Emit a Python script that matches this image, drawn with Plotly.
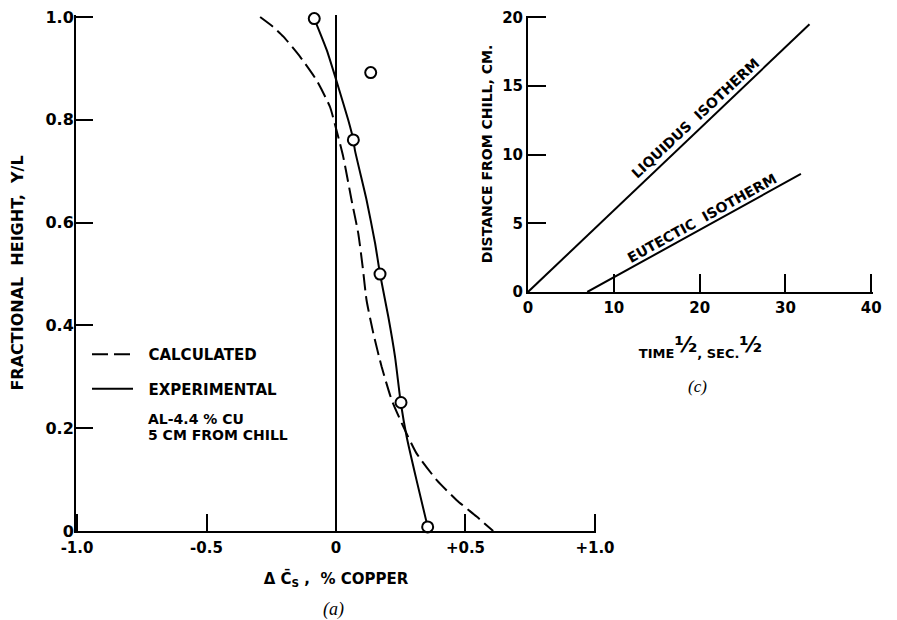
import plotly.graph_objects as go

# ---------------- data: panel (a) ----------------
calc_x = [-0.293, -0.243, -0.203, -0.139, -0.075, -0.023, 0.005, 0.028, 0.06, 0.086, 0.103, 0.118,
          0.144, 0.176, 0.215, 0.26, 0.311, 0.389, 0.466, 0.543, 0.607]
calc_y = [1.0, 0.981, 0.962, 0.923, 0.877, 0.825, 0.774, 0.728, 0.644, 0.579, 0.514, 0.449,
          0.385, 0.32, 0.255, 0.203, 0.151, 0.099, 0.06, 0.028, 0.0]

exp_curve_x = [-0.084, -0.036, 0.009, 0.047, 0.067, 0.073, 0.118, 0.151, 0.17, 0.202, 0.228, 0.25,
               0.273, 0.311, 0.354]
exp_curve_y = [0.997, 0.936, 0.864, 0.8, 0.761, 0.741, 0.644, 0.56, 0.5, 0.417, 0.339, 0.25,
               0.183, 0.099, 0.008]

exp_pts_x = [-0.084, 0.134, 0.067, 0.17, 0.251, 0.354]
exp_pts_y = [0.997, 0.892, 0.761, 0.50, 0.25, 0.008]

a_xticks = [-1.0, -0.5, 0, 0.5, 1.0]
a_xticktext = ["-1.0", "-0.5", "0", "+0.5", "+1.0"]
a_yticks = [0, 0.2, 0.4, 0.6, 0.8, 1.0]
a_yticktext = ["0", "0.2", "0.4", "0.6", "0.8", "1.0"]

# ---------------- data: panel (c) ----------------
liq_x = [0, 32.8]
liq_y = [0, 19.5]
eut_x = [6.9, 31.8]
eut_y = [0, 8.6]

c_xticks = [0, 10, 20, 30, 40]
c_xticktext = ["0", "10", "20", "30", "40"]
c_yticks = [0, 5, 10, 15, 20]
c_yticktext = ["0", "5", "10", "15", "20"]

FONT = "DejaVu Sans, Verdana, sans-serif"
SERIF = "Liberation Serif, Times New Roman, serif"
OFF = 8            # page body margin of the browser
W, H = 897 - OFF, 620 - OFF


def px_x(p):
    return (p - OFF) / W


def px_y(p):
    return 1 - (p - OFF) / H


def bold(size):
    return dict(family=FONT, size=size, color="black", weight="bold")


fig = go.Figure()

fig.add_trace(go.Scatter(x=calc_x, y=calc_y, mode="lines", name="\u00a0\u00a0CALCULATED",
                         legendgroup="calc",
                         line=dict(color="black", width=2, dash="16px,6px", shape="spline", smoothing=0.5),
                         xaxis="x", yaxis="y", cliponaxis=False))
fig.add_trace(go.Scatter(x=exp_curve_x, y=exp_curve_y, mode="lines", name="\u00a0\u00a0EXPERIMENTAL",
                         legendgroup="exp",
                         line=dict(color="black", width=2, shape="spline", smoothing=0.5),
                         xaxis="x", yaxis="y", cliponaxis=False))
fig.add_trace(go.Scatter(x=exp_pts_x, y=exp_pts_y, mode="markers", showlegend=False,
                         marker=dict(symbol="circle", size=11, color="white",
                                     line=dict(color="black", width=2)),
                         xaxis="x", yaxis="y", cliponaxis=False))

fig.add_trace(go.Scatter(x=liq_x, y=liq_y, mode="lines", showlegend=False,
                         line=dict(color="black", width=2), xaxis="x2", yaxis="y2", cliponaxis=False))
fig.add_trace(go.Scatter(x=eut_x, y=eut_y, mode="lines", showlegend=False,
                         line=dict(color="black", width=2), xaxis="x2", yaxis="y2", cliponaxis=False))

axis_common = dict(showgrid=False, showline=True, linecolor="black", linewidth=2,
                   ticks="inside", tickcolor="black", tickwidth=2, mirror=False,
                   automargin=False, ticklabeloverflow="allow")

half = "<span style='font-size:22px;baseline-shift:6px'>\u00bd</span>"

fig.update_layout(
    template="none",
    width=W, height=H, autosize=False,
    margin=dict(l=0, r=0, t=0, b=0),
    paper_bgcolor="white", plot_bgcolor="rgba(0,0,0,0)",
    font=dict(family=FONT, color="black"),
    xaxis=dict(domain=[px_x(76), px_x(596)], range=[-1.004, 1.004], anchor="y",
               tickvals=a_xticks, ticktext=a_xticktext, ticklen=17, ticklabelstandoff=2,
               tickfont=bold(15),
               zeroline=True, zerolinecolor="black", zerolinewidth=1.5,
               title=dict(text="\u0394 C\u0304<sub>S</sub> ,  % COPPER", font=bold(15), standoff=17),
               **axis_common),
    yaxis=dict(domain=[px_y(531), px_y(15)], range=[0, 1.004], anchor="x",
               tickvals=a_yticks, ticktext=a_yticktext, ticklen=17, ticklabelstandoff=-3,
               tickfont=bold(16), zeroline=False,
               title=dict(text="FRACTIONAL  HEIGHT,  Y/L", font=bold(16), standoff=19),
               **axis_common),
    xaxis2=dict(domain=[px_x(528), px_x(873)], range=[0, 40.2], anchor="y2",
                tickvals=c_xticks, ticktext=c_xticktext, ticklen=18, ticklabelstandoff=1,
                tickfont=bold(15), zeroline=False,
                title=dict(text="TIME" + half + ", SEC." + half, font=bold(13), standoff=33),
                **axis_common),
    yaxis2=dict(domain=[px_y(292), px_y(16)], range=[0, 20.1], anchor="x2",
                tickvals=c_yticks, ticktext=c_yticktext, ticklen=18, ticklabelstandoff=0,
                tickfont=bold(15), zeroline=False,
                title=dict(text="DISTANCE FROM CHILL, CM.", font=bold(14), standoff=6),
                **axis_common),
    legend=dict(x=px_x(87), y=px_y(338), xanchor="left", yanchor="top",
                font=bold(15),
                itemwidth=41, tracegroupgap=12, traceorder="grouped",
                bgcolor="rgba(0,0,0,0)", borderwidth=0),
    showlegend=True,
)

annots = [
    dict(text="AL-4.4 % CU", x=px_x(146), y=px_y(419), xref="paper", yref="paper",
         xanchor="left", yanchor="middle", showarrow=False, font=bold(14)),
    dict(text="5 CM FROM CHILL", x=px_x(146), y=px_y(435), xref="paper", yref="paper",
         xanchor="left", yanchor="middle", showarrow=False, font=bold(14)),
    dict(text="<i>(a)</i>", x=px_x(333), y=px_y(609), xref="paper", yref="paper",
         xanchor="center", yanchor="middle", showarrow=False,
         font=dict(family=SERIF, size=18, color="black")),
    dict(text="<i>(c)</i>", x=px_x(697), y=px_y(386), xref="paper", yref="paper",
         xanchor="center", yanchor="middle", showarrow=False,
         font=dict(family=SERIF, size=17, color="black")),
    dict(text="LIQUIDUS  ISOTHERM", x=19.5, y=12.7, xref="x2", yref="y2", textangle=-43,
         xanchor="center", yanchor="middle", showarrow=False, font=bold(14)),
    dict(text="EUTECTIC  ISOTHERM", x=20.3, y=5.4, xref="x2", yref="y2", textangle=-29,
         xanchor="center", yanchor="middle", showarrow=False, font=bold(14)),
]
fig.update_layout(annotations=annots)

fig.write_html("out.html")
